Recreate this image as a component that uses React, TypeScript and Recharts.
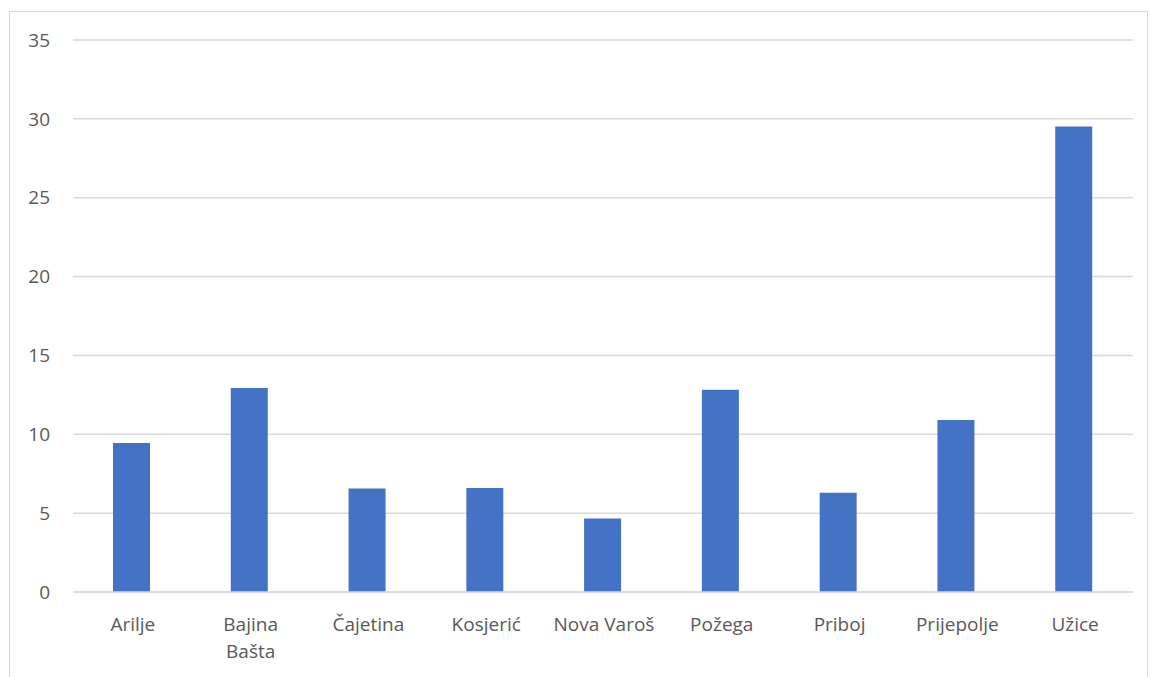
import { BarChart, Bar, XAxis, YAxis, CartesianGrid } from "recharts";

const municipalities = [
  "Arilje",
  "Bajina Bašta",
  "Čajetina",
  "Kosjerić",
  "Nova Varoš",
  "Požega",
  "Priboj",
  "Prijepolje",
  "Užice",
];

const values = [9.45, 12.94, 6.57, 6.59, 4.66, 12.83, 6.29, 10.9, 29.52];

const yTicks = [0, 5, 10, 15, 20, 25, 30, 35];

const FONT = "'Open Sans', sans-serif";
const FONT_SIZE = 19;
const TEXT_COLOR = "#595959";
const GRID_COLOR = "#d9d9d9";

const data = municipalities.map((name, i) => ({ name, value: values[i] }));

// Long labels go on two lines, like the office chart wrapping
function CategoryTick(props: any) {
  const { x, y, payload } = props;
  const label: string = payload.value;
  const lines = label.length > 11 ? label.split(" ") : [label];

  return (
    <text
      x={x + 1}
      y={y}
      textAnchor="middle"
      fill={TEXT_COLOR}
      fontFamily={FONT}
      fontSize={FONT_SIZE}
    >
      {lines.map((line, i) => (
        <tspan key={i} x={x + 1} dy={i === 0 ? 31 : 27}>
          {line}
        </tspan>
      ))}
    </text>
  );
}

export default function App() {
  return (
    <div
      style={{
        position: "absolute",
        left: 0,
        top: 0,
        width: 1150,
        height: 677,
        background: "#ffffff",
        overflow: "hidden",
      }}
    >
      <div
        style={{
          position: "absolute",
          left: 9,
          top: 11,
          width: 1137,
          height: 680,
          border: `1px solid ${GRID_COLOR}`,
        }}
      />
      <div style={{ position: "absolute", left: 0, top: 0 }}>
        <BarChart
          width={1150}
          height={677}
          data={data}
          margin={{ top: 40, right: 17, bottom: 0, left: 0 }}
          barSize={37}
        >
          <CartesianGrid vertical={false} stroke={GRID_COLOR} strokeWidth={1.5} />
          <XAxis
            dataKey="name"
            height={85}
            interval={0}
            axisLine={{ stroke: GRID_COLOR, strokeWidth: 1.5 }}
            tickLine={false}
            tick={<CategoryTick />}
          />
          <YAxis
            width={73}
            domain={[0, 35]}
            ticks={yTicks}
            axisLine={false}
            tickLine={false}
            tickMargin={17}
            tick={{ fill: TEXT_COLOR, fontFamily: FONT, fontSize: FONT_SIZE }}
          />
          <Bar dataKey="value" fill="#4472C4" isAnimationActive={false} />
        </BarChart>
      </div>
    </div>
  );
}
